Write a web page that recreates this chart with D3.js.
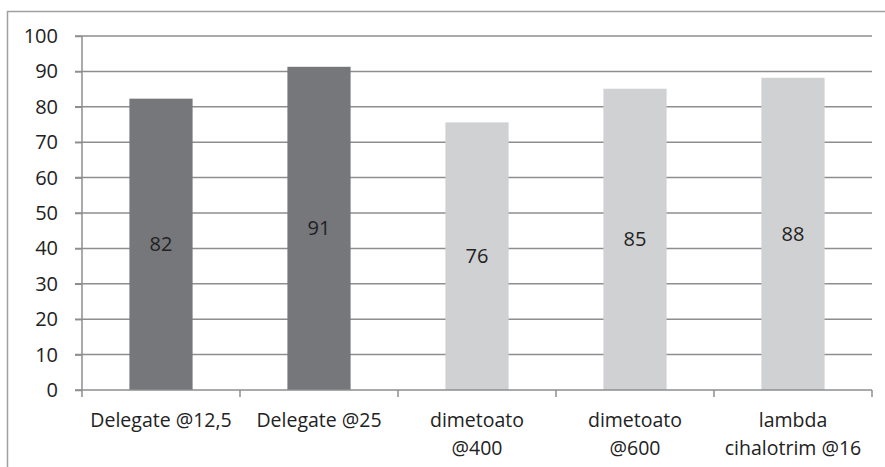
<!DOCTYPE html>
<html>
<head>
<meta charset="utf-8">
<script src="https://cdn.jsdelivr.net/npm/d3@7"></script>
<style>
  body { margin: 0; background: #fff; }
  svg { display: block; font-family: "Open Sans", sans-serif; }
</style>
</head>
<body>
<div id="chart"></div>
<script>
// Chart data
const categories = ["Delegate @12,5", "Delegate @25", "dimetoato @400", "dimetoato @600", "lambda cihalotrim @16"];
const categoryLines = [["Delegate @12,5"], ["Delegate @25"], ["dimetoato", "@400"], ["dimetoato", "@600"], ["lambda", "cihalotrim @16"]];
const values = [82.3, 91.3, 75.6, 85.1, 88.2];
const barLabels = ["82", "91", "76", "85", "88"];
const groups = ["dark", "dark", "light", "light", "light"];
const yTicks = [0, 10, 20, 30, 40, 50, 60, 70, 80, 90, 100];

const W = 885, H = 467;
const margin = { top: 36, right: 13, bottom: 77, left: 82 };
const width = W - margin.left - margin.right;
const height = H - margin.top - margin.bottom;

const colors = { dark: "#76777b", light: "#d0d1d3" };

const root = d3.select("#chart").append("svg")
    .attr("width", W)
    .attr("height", H);

// outer chart border (only left and top visible)
root.append("path")
    .attr("d", `M7.5,${H} V11.5 H${W}`)
    .attr("fill", "none")
    .attr("stroke", "#a0a0a0")
    .attr("stroke-width", 1.5);

const svg = root.append("g")
    .attr("transform", `translate(${margin.left},${margin.top})`);

const x = d3.scaleBand()
    .domain(categories)
    .range([0, width])
    .paddingInner(0.6)
    .paddingOuter(0.3);

const y = d3.scaleLinear()
    .domain([0, 100])
    .range([height, 0]);

// gridlines
svg.append("g")
    .selectAll("line")
    .data(yTicks.filter(d => d > 0))
    .enter()
    .append("line")
    .attr("x1", -7)
    .attr("x2", width)
    .attr("y1", d => y(d))
    .attr("y2", d => y(d))
    .attr("stroke", "#8e8e90")
    .attr("stroke-width", 1.5);

// bars
svg.selectAll("rect.bar")
    .data(values)
    .enter()
    .append("rect")
    .attr("class", "bar")
    .attr("x", (d, i) => x(categories[i]))
    .attr("y", d => y(d))
    .attr("width", x.bandwidth())
    .attr("height", d => height - y(d))
    .attr("fill", (d, i) => colors[groups[i]]);

// value labels
svg.selectAll("text.val")
    .data(values)
    .enter()
    .append("text")
    .attr("class", "val")
    .attr("x", (d, i) => x(categories[i]) + x.bandwidth() / 2)
    .attr("y", d => (y(d) + height) / 2)
    .attr("dy", "0.35em")
    .attr("text-anchor", "middle")
    .attr("font-size", 20)
    .attr("fill", "#222")
    .text((d, i) => barLabels[i]);

// y axis
const yAxis = svg.append("g")
    .call(d3.axisLeft(y).tickValues(yTicks).tickSize(7).tickPadding(17));
yAxis.selectAll("text").attr("font-size", 20).attr("fill", "#222").attr("font-family", "'Open Sans', sans-serif");
yAxis.selectAll("line").attr("stroke", "#8e8e90").attr("stroke-width", 1.5);
yAxis.select(".domain").remove();
svg.append("line")
    .attr("x1", 0).attr("x2", 0)
    .attr("y1", 0).attr("y2", height)
    .attr("stroke", "#8e8e90").attr("stroke-width", 1.5);

// x axis line and ticks at category boundaries
const step = x.step();
const bounds = d3.range(categories.length + 1).map(i => i * step);
svg.append("line")
    .attr("x1", -7).attr("x2", width)
    .attr("y1", height).attr("y2", height)
    .attr("stroke", "#8e8e90").attr("stroke-width", 1.5);
svg.append("g")
    .selectAll("line")
    .data(bounds)
    .enter()
    .append("line")
    .attr("x1", d => d).attr("x2", d => d)
    .attr("y1", height).attr("y2", height + 7)
    .attr("stroke", "#8e8e90").attr("stroke-width", 1.5);

// category labels
const catText = svg.append("g")
    .selectAll("text")
    .data(categoryLines)
    .enter()
    .append("text")
    .attr("text-anchor", "middle")
    .attr("font-size", 19.5)
    .attr("fill", "#222")
    .attr("transform", (d, i) => `translate(${x(categories[i]) + x.bandwidth() / 2},${height + 37})`);
catText.selectAll("tspan")
    .data(d => d)
    .enter()
    .append("tspan")
    .attr("x", 0)
    .attr("dy", (d, i) => i === 0 ? 0 : 28)
    .text(d => d);
</script>
</body>
</html>
